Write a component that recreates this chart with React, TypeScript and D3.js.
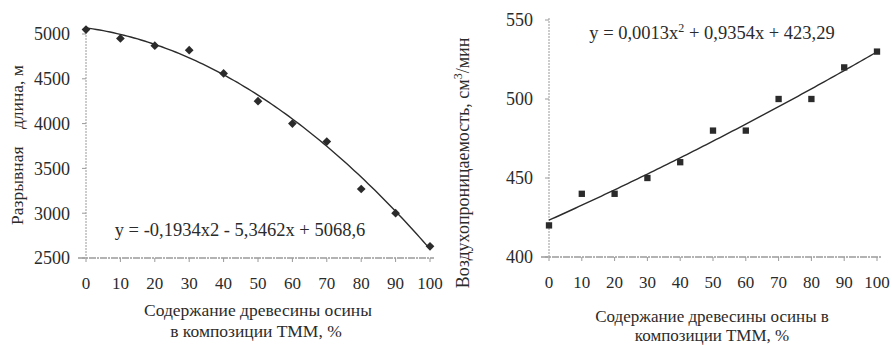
import * as d3 from 'd3';

// shared x categories (aspen wood content, %)
const xValues = [0, 10, 20, 30, 40, 50, 60, 70, 80, 90, 100];

// left chart: breaking length, m
const lengthValues = [5050, 4950, 4870, 4820, 4560, 4250, 4000, 3800, 3270, 3000, 2630];
const lengthTicks = [2500, 3000, 3500, 4000, 4500, 5000];
const lengthCoef = [-0.1934, -5.3462, 5068.6];

// right chart: air permeability, cm3/min
const airValues = [420, 440, 440, 450, 460, 480, 480, 500, 500, 520, 530];
const airTicks = [400, 450, 500, 550];
const airCoef = [0.0013, 0.9354, 423.29];

const FONT = '"Liberation Serif", "DejaVu Serif", serif';
const INK = '#2b2b2b';
const AXIS = '#9a9a9a';

const trend = (c: number[]) => (x: number) => c[0] * x * x + c[1] * x + c[2];

type PanelProps = {
  x0: number; x1: number; yTop: number; yBot: number;
  domain: [number, number]; ticks: number[]; values: number[];
  coef: number[]; marker: 'diamond' | 'square'; yFont: number;
};

const Panel = ({ x0, x1, yTop, yBot, domain, ticks, values, coef, marker, yFont }: PanelProps) => {
  const xScale = d3.scaleLinear().domain([0, 100]).range([x0, x1]);
  const yScale = d3.scaleLinear().domain(domain).range([yBot, yTop]);
  const f = trend(coef);
  const samples = d3.range(0, 100.5, 1);
  const path = d3.line<number>().x(d => xScale(d)).y(d => yScale(f(d)))(samples) ?? '';
  const sym = d3.symbol().type(d3.symbolSquare).size(marker === 'diamond' ? 38 : 40)();
  const rot = marker === 'diamond' ? 45 : 0;

  return (
    <g>
      {/* axes */}
      <line x1={x0} x2={x0} y1={yTop - 2} y2={yBot} stroke={AXIS} strokeWidth={1} strokeDasharray="2,1" />
      <line x1={x0 - 8} x2={x1 + 4} y1={yBot} y2={yBot} stroke={AXIS} strokeWidth={1.3} strokeDasharray="7,1,2,1" />
      {ticks.map(t => (
        <g key={t}>
          <line x1={x0 - 4} x2={x0} y1={yScale(t)} y2={yScale(t)} stroke={AXIS} />
          <text x={x0 - 16} y={yScale(t)} dy="0.35em" textAnchor="end" fontSize={yFont} fill={INK}>{t}</text>
        </g>
      ))}
      {xValues.map(v => (
        <g key={v}>
          <line x1={xScale(v)} x2={xScale(v)} y1={yBot} y2={yBot + 4} stroke={AXIS} />
          <text x={xScale(v)} y={yBot + 25} dy="0.35em" textAnchor="middle" fontSize={17} fill={INK}>{v}</text>
        </g>
      ))}
      <path d={path} fill="none" stroke={INK} strokeWidth={1.4} />
      {values.map((v, i) => (
        <path key={i} d={sym} transform={`translate(${xScale(xValues[i])},${yScale(v)}) rotate(${rot})`} fill={INK} />
      ))}
    </g>
  );
};

export default function App() {
  return (
    <svg width={892} height={345} style={{ position: 'absolute', left: 0, top: 0, background: '#fff' }}
      fontFamily={FONT}>
      <rect width={892} height={345} fill="#fff" />
      <Panel x0={86} x1={430} yTop={34} yBot={258} domain={[2500, 5000]} ticks={lengthTicks}
        values={lengthValues} coef={lengthCoef} marker="diamond" yFont={18} />
      <text x={240} y={236} textAnchor="middle" fontSize={18.5} fill={INK}>y = -0,1934x2 - 5,3462x + 5068,6</text>
      <text transform="translate(23,145) rotate(-90)" textAnchor="middle" fontSize={17.5} fill={INK}
        style={{ whiteSpace: 'pre' }}>{'Разрывная    длина, м'}</text>
      <text x={258} y={316} textAnchor="middle" fontSize={17.5} fill={INK}>Содержание древесины осины</text>
      <text x={256} y={337} textAnchor="middle" fontSize={17.5} fill={INK}>в композиции ТММ, %</text>

      <Panel x0={549} x1={877} yTop={20} yBot={257} domain={[400, 550]} ticks={airTicks}
        values={airValues} coef={airCoef} marker="square" yFont={18} />
      <text x={712} y={39} textAnchor="middle" fontSize={18.5} fill={INK}>
        y = 0,0013x<tspan dy={-7} fontSize={12}>2</tspan><tspan dy={7}> + 0,9354x + 423,29</tspan>
      </text>
      <text transform="translate(469,163) rotate(-90)" textAnchor="middle" fontSize={18} fill={INK}>
        Воздухопроницаемость, см<tspan dy={-7} fontSize={12}>3</tspan><tspan dy={7}>/мин</tspan>
      </text>
      <text x={712} y={322} textAnchor="middle" fontSize={17} fill={INK}>Содержание древесины осины в</text>
      <text x={712} y={341} textAnchor="middle" fontSize={17} fill={INK}>композиции ТММ, %</text>
    </svg>
  );
}
